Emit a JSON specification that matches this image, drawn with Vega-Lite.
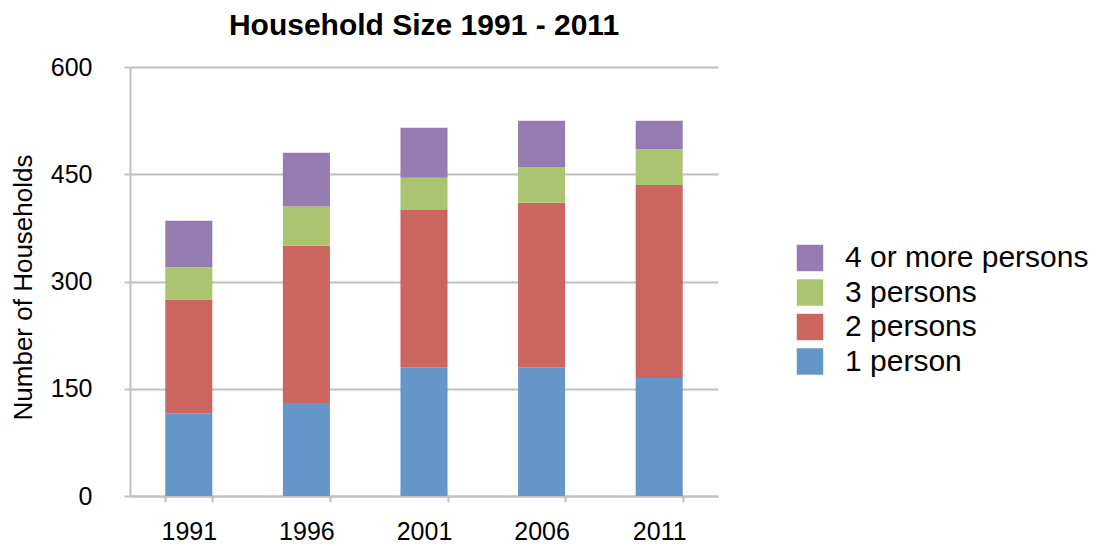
{
  "$schema": "https://vega.github.io/schema/vega-lite/v6.json",
  "width": 588,
  "height": 429,
  "autosize": {"type": "none"},
  "padding": {"left": 130, "top": 67, "right": 378, "bottom": 50},
  "config": {"font": "Liberation Sans", "view": {"stroke": null}},
  "title": {"text": "Household Size 1991 - 2011", "fontSize": 30, "fontWeight": "bold", "font": "Liberation Sans", "color": "black", "offset": 14, "anchor": "middle"},
  "data": {"values": [
    {"year": "1991", "size": "1 person", "households": 115},
    {"year": "1991", "size": "2 persons", "households": 160},
    {"year": "1991", "size": "3 persons", "households": 45},
    {"year": "1991", "size": "4 or more persons", "households": 65},
    {"year": "1996", "size": "1 person", "households": 130},
    {"year": "1996", "size": "2 persons", "households": 220},
    {"year": "1996", "size": "3 persons", "households": 55},
    {"year": "1996", "size": "4 or more persons", "households": 75},
    {"year": "2001", "size": "1 person", "households": 180},
    {"year": "2001", "size": "2 persons", "households": 220},
    {"year": "2001", "size": "3 persons", "households": 45},
    {"year": "2001", "size": "4 or more persons", "households": 70},
    {"year": "2006", "size": "1 person", "households": 180},
    {"year": "2006", "size": "2 persons", "households": 230},
    {"year": "2006", "size": "3 persons", "households": 50},
    {"year": "2006", "size": "4 or more persons", "households": 65},
    {"year": "2011", "size": "1 person", "households": 165},
    {"year": "2011", "size": "2 persons", "households": 270},
    {"year": "2011", "size": "3 persons", "households": 50},
    {"year": "2011", "size": "4 or more persons", "households": 40}
  ]},
  "mark": {"type": "bar"},
  "encoding": {
    "x": {
      "field": "year", "type": "ordinal",
      "scale": {"paddingInner": 0.6, "paddingOuter": 0.3},
      "axis": {
        "title": null, "labelAngle": 0, "labelFontSize": 25, "labelColor": "black", "labelPadding": 17,
        "domainColor": "#c0c0c0", "domainWidth": 2, "tickColor": "#c0c0c0", "tickWidth": 2, "tickSize": 6,
        "tickBand": "extent", "grid": false
      }
    },
    "y": {
      "field": "households", "type": "quantitative", "stack": "zero",
      "scale": {"domain": [0, 600], "nice": false},
      "axis": {
        "title": "Number of Households", "titleFontSize": 26, "titleFontWeight": "normal", "titleColor": "black", "titlePadding": 14, "titleY": 220,
        "values": [0, 150, 300, 450, 600], "labelFontSize": 25, "labelColor": "black", "labelPadding": 32,
        "domainColor": "#c0c0c0", "domainWidth": 2, "tickColor": "#c0c0c0", "tickWidth": 2, "tickSize": 6,
        "grid": true, "gridColor": "#c0c0c0", "gridWidth": 2
      }
    },
    "color": {
      "field": "size", "type": "nominal",
      "scale": {"domain": ["4 or more persons", "3 persons", "2 persons", "1 person"], "range": ["#947BB0", "#ABC470", "#CB6560", "#6596C8"]},
      "legend": {
        "title": null, "orient": "none", "legendX": 665, "legendY": 176,
        "symbolType": "square", "symbolSize": 700, "symbolStrokeWidth": 0, "symbolOpacity": 1,
        "labelFontSize": 30, "labelColor": "black", "labelOffset": 20, "rowPadding": 4.5,
        "labelLimit": 400,
        "labelExpr": "datum.label == '4 or more persons' ? datum.label : '\u2002\u200a' + datum.label"
      }
    },
    "order": {"field": "size", "sort": "ascending"}
  }
}
